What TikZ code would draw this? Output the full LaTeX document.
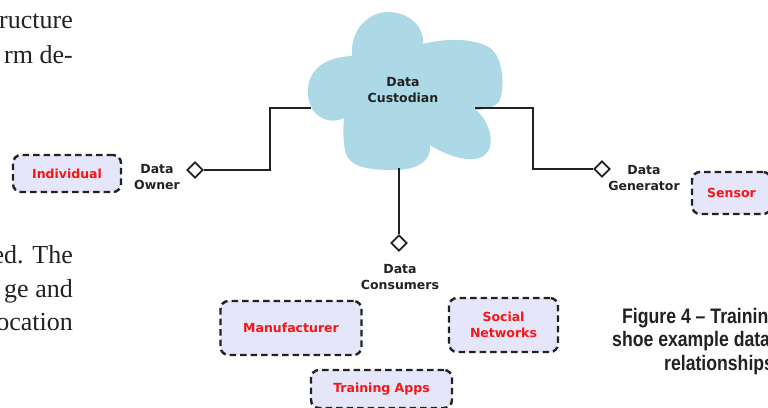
\documentclass[tikz,border=0pt]{standalone}
\usepackage{fontspec}
\setmainfont{Liberation Serif}
\newfontfamily\bodyfont{Liberation Serif}
\newfontfamily\labelfont{DejaVu Sans}
\newfontfamily\capfont[FakeStretch=0.84]{Liberation Sans}
\usetikzlibrary{shapes.geometric}
\definecolor{cloudblue}{RGB}{173,216,230}
\definecolor{boxfill}{RGB}{230,230,250}
\definecolor{ink}{RGB}{34,34,34}
\definecolor{actor}{RGB}{250,20,20}
\begin{document}
\begin{tikzpicture}[x=1pt, y=-1pt,
    link/.style={draw=ink, line width=2pt},
    port/.style={diamond, draw=ink, line width=1.8pt, fill=white, inner sep=0pt,
      minimum width=16pt, minimum height=16pt},
    role/.style={text=ink, align=center, font=\labelfont\bfseries\fontsize{12.5}{16}\selectfont},
    party/.style={draw=ink, line width=2.4pt, dash pattern=on 6.5pt off 4pt, rounded corners=8pt,
      fill=boxfill, text=actor, align=center, inner sep=0pt,
      font=\labelfont\bfseries\fontsize{12.5}{16}\selectfont},
    body/.style={text=ink, inner sep=0pt, font=\bodyfont\fontsize{26}{34}\selectfont},
    caption/.style={text=ink, inner sep=0pt, font=\capfont\bfseries\fontsize{21}{24}\selectfont}]
  \useasboundingbox (0,0) rectangle (768,407);
  \clip (0,0) rectangle (768,407);

  % running text of the page around the figure
  \node[body, anchor=base east] (t1) at (73,28) {ructure};
  \node[body, anchor=base east] (t2) at (73,63) {rm de-};
  \node[body, anchor=base east] (t3) at (73,263) {ed. The};
  \node[body, anchor=base east] (t4) at (73,297) {ge and};
  \node[body, anchor=base east] (t5) at (73,330) {ocation};

  % the custodian cloud
  \fill[cloudblue] (352,56) .. controls (350,28) and (370,12) .. (388,12)
    .. controls (410,12) and (425,28) .. (423,44)
    .. controls (445,38) and (475,38) .. (490,48)
    .. controls (505,58) and (505,95) .. (498,103)
    .. controls (492,108) and (482,110) .. (476,110)
    .. controls (490,122) and (496,145) .. (485,155)
    .. controls (472,165) and (445,155) .. (430,145)
    .. controls (432,160) and (418,170) .. (395,170)
    .. controls (370,170) and (348,168) .. (345,150)
    .. controls (343,140) and (343,128) .. (344,118)
    .. controls (330,125) and (310,118) .. (308,95)
    .. controls (306,70) and (325,57) .. (352,56) -- cycle;
  \node[role] (cust) at (403,90) {Data\\Custodian};
  \coordinate (cl) at (311,108);
  \coordinate (cr) at (475,108);
  \coordinate (cb) at (399,168);

  % roles with their ports
  \node[port] (pown) at (195,170) {};
  \node[port] (pgen) at (602,169) {};
  \node[port] (pcon) at (399,243) {};
  \node[role] (own) at (157,177) {Data\\Owner};
  \node[role] (gen) at (644,178) {Data\\Generator};
  \node[role] (con) at (400,277) {Data\\Consumers};

  \draw[link] (cl) -- ++(-41,0) |- (pown.east);
  \draw[link] (cr) -- ++(58,0) |- (pgen.west);
  \draw[link] (cb) -- (pcon.north);

  % parties
  \node[party, minimum width=108pt, minimum height=37pt] (ind) at (67,173.5) {Individual};
  \node[party, minimum width=79pt, minimum height=42pt] (sen) at (731.5,193) {Sensor};
  \node[party, minimum width=141pt, minimum height=54pt] (man) at (291,328) {Manufacturer};
  \node[party, minimum width=109pt, minimum height=54pt] (soc) at (503.5,325) {Social\\Networks};
  \node[party, minimum width=141pt, minimum height=38pt] (app) at (381.5,389) {Training Apps};

  % caption
  \node[caption, anchor=base west] (c1) at (622,323) {Figure 4 – Training};
  \node[caption, anchor=base west] (c2) at (612,346) {shoe example data};
  \node[caption, anchor=base west] (c3) at (664,370) {relationships};
\end{tikzpicture}
\end{document}
